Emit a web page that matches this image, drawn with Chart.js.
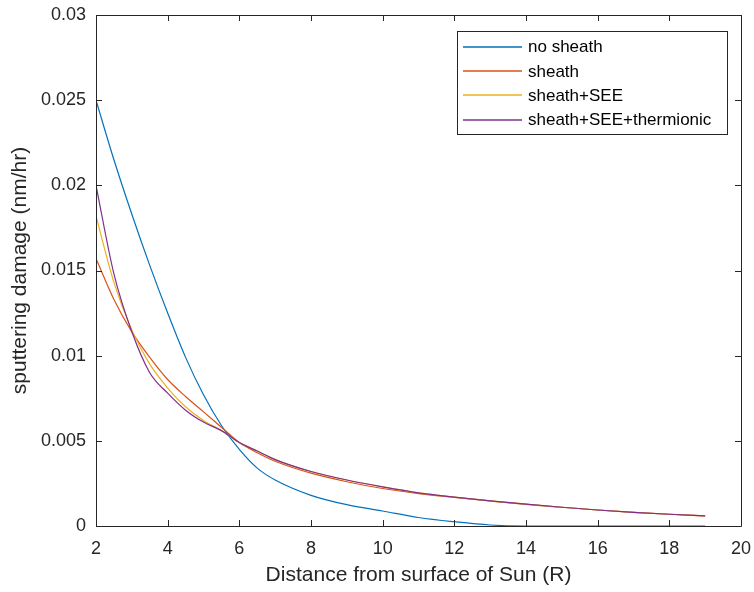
<!DOCTYPE html>
<html>
<head>
<meta charset="utf-8">
<script src="https://cdn.jsdelivr.net/npm/chart.js@4.4.1/dist/chart.umd.min.js"></script>
<style>
  html, body { margin: 0; padding: 0; background: #fff; }
  #wrap { width: 754px; height: 592px; }
</style>
</head>
<body>
<div id="wrap"><canvas id="chart" width="754" height="592"></canvas></div>
<script>
// distance from surface of Sun (R)
const distance = [2, 2.5, 3, 3.5, 4, 4.5, 5, 5.5, 6, 6.5, 7, 8, 9, 10, 11, 12, 13, 14, 15, 16, 17, 18, 19];

// sputtering damage (nm/hr)
const noSheath = [0.025, 0.0215, 0.0183, 0.0153, 0.0125, 0.0099, 0.0077, 0.0059, 0.0045, 0.0034, 0.0027, 0.0018, 0.00125, 0.00088, 0.0005, 0.00025, 0.00006, 0, 0, 0, 0, 0, 0];
const sheath = [0.0157, 0.0133, 0.0114, 0.0099, 0.0086, 0.0076, 0.0067, 0.0058, 0.0049, 0.0043, 0.0038, 0.0031, 0.0026, 0.0022, 0.0019, 0.00168, 0.00147, 0.00127, 0.0011, 0.00094, 0.0008, 0.00069, 0.0006];
const sheathSEE = [0.0182, 0.0143, 0.0115, 0.0095, 0.0081, 0.0070, 0.0062, 0.0056, 0.0049, 0.0044, 0.0039, 0.0032, 0.0027, 0.0023, 0.00195, 0.0017, 0.00148, 0.00128, 0.0011, 0.00094, 0.0008, 0.00069, 0.0006];
const sheathSEEThermionic = [0.0200, 0.0148, 0.0114, 0.0090, 0.0078, 0.0068, 0.0061, 0.0056, 0.0049, 0.0044, 0.0039, 0.0032, 0.0027, 0.0023, 0.00195, 0.0017, 0.00148, 0.00128, 0.0011, 0.00094, 0.0008, 0.00069, 0.0006];

const seriesNames = ['no sheath', 'sheath', 'sheath+SEE', 'sheath+SEE+thermionic'];
const seriesColors = ['#0072BD', '#D95319', '#EDB120', '#7E2F8E'];

const xTicks = [2, 4, 6, 8, 10, 12, 14, 16, 18, 20];
const yTicks = [0, 0.005, 0.01, 0.015, 0.02, 0.025, 0.03];

const FONT = '"Liberation Sans", Arial, Helvetica, sans-serif';
const AXIS_COLOR = '#262626';

function toPoints(ys) {
  return distance.map((x, i) => ({ x: x, y: ys[i] }));
}

const allSeries = [noSheath, sheath, sheathSEE, sheathSEEThermionic];

// box + inward ticks like a matlab axes, and the legend box
const matlabAxes = {
  id: 'matlabAxes',
  afterDatasetsDraw(chart) {
    const ctx = chart.ctx;
    const a = chart.chartArea;
    const xs = chart.scales.x, ys = chart.scales.y;
    ctx.save();
    ctx.strokeStyle = AXIS_COLOR;
    ctx.lineWidth = 1;
    ctx.beginPath();
    ctx.rect(Math.round(a.left) + 0.5, Math.round(a.top) + 0.5,
      Math.round(a.right - a.left), Math.round(a.bottom - a.top));
    ctx.stroke();
    const len = 6;
    ctx.beginPath();
    xTicks.forEach(v => {
      const px = Math.round(xs.getPixelForValue(v)) + 0.5;
      ctx.moveTo(px, a.bottom); ctx.lineTo(px, a.bottom - len);
      ctx.moveTo(px, a.top); ctx.lineTo(px, a.top + len);
    });
    yTicks.forEach(v => {
      const py = Math.round(ys.getPixelForValue(v)) + 0.5;
      ctx.moveTo(a.left, py); ctx.lineTo(a.left + len, py);
      ctx.moveTo(a.right, py); ctx.lineTo(a.right - len, py);
    });
    ctx.stroke();

    // legend
    const bx = 457, by = 31, bw = 270, bh = 103;
    ctx.fillStyle = '#fff';
    ctx.fillRect(bx, by, bw, bh);
    ctx.strokeStyle = '#262626';
    ctx.strokeRect(bx + 0.5, by + 0.5, bw, bh);
    ctx.font = '17px ' + FONT;
    ctx.textBaseline = 'middle';
    ctx.fillStyle = '#000';
    seriesNames.forEach((name, i) => {
      const ly = 46.5 + i * 24.4;
      ctx.strokeStyle = seriesColors[i];
      ctx.lineWidth = 1.4;
      ctx.beginPath();
      ctx.moveTo(463, Math.round(ly));
      ctx.lineTo(522, Math.round(ly));
      ctx.stroke();
      ctx.fillText(name, 528, ly + 1);
    });
    ctx.restore();
  }
};

new Chart(document.getElementById('chart'), {
  type: 'line',
  data: {
    datasets: allSeries.map((ys, i) => ({
      label: seriesNames[i],
      data: toPoints(ys),
      borderColor: seriesColors[i],
      backgroundColor: seriesColors[i],
      borderWidth: 1.2,
      pointRadius: 0,
      cubicInterpolationMode: 'monotone',
      fill: false,
      order: allSeries.length - i
    }))
  },
  options: {
    responsive: false,
    animation: false,
    layout: { padding: { left: 0, right: 13, top: 15, bottom: 0 } },
    plugins: {
      legend: { display: false },
      tooltip: { enabled: false }
    },
    scales: {
      x: {
        type: 'linear',
        min: 2,
        max: 20,
        afterBuildTicks: s => { s.ticks = xTicks.map(v => ({ value: v })); },
        afterFit: s => { s.height = 66; s.paddingLeft = 0; s.paddingRight = 0; },
        grid: { display: false, drawTicks: false },
        border: { display: false },
        ticks: {
          color: AXIS_COLOR,
          font: { family: FONT, size: 18 },
          padding: 12,
          maxRotation: 0
        },
        title: {
          display: true,
          text: 'Distance from surface of Sun (R)',
          color: AXIS_COLOR,
          font: { family: FONT, size: 21 },
          padding: { top: 0, bottom: 4 }
        }
      },
      y: {
        min: 0,
        max: 0.03,
        afterBuildTicks: s => { s.ticks = yTicks.map(v => ({ value: v })); },
        afterFit: s => { s.width = 96; s.paddingTop = 0; s.paddingBottom = 0; },
        grid: { display: false, drawTicks: false },
        border: { display: false },
        ticks: {
          color: AXIS_COLOR,
          font: { family: FONT, size: 18 },
          padding: 10,
          callback: v => String(+v.toFixed(4))
        },
        title: {
          display: true,
          text: 'sputtering damage (nm/hr)',
          color: AXIS_COLOR,
          font: { family: FONT, size: 21 },
          padding: { top: 8, bottom: 0 }
        }
      }
    }
  },
  plugins: [matlabAxes]
});
</script>
</body>
</html>
